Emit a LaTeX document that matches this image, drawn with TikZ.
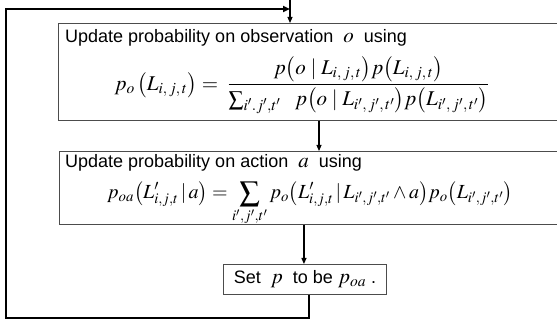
\documentclass[tikz,border=0pt]{standalone}
\usepackage{mathptmx}
\usepackage{fontspec}
\setmainfont{Liberation Sans}
\usetikzlibrary{positioning,arrows.meta}

\newcommand\bigmath[1]{{\fontsize{21}{24}\selectfont$#1$}}

\tikzset{
  stepbox/.style={draw=black!70,line width=0.9pt,inner sep=0pt,anchor=north west},
  steptext/.style={inner sep=0pt,anchor=base west},
  formula/.style={inner sep=0pt,font=\fontsize{20}{24}\selectfont},
  flow/.style={-{Triangle[length=6pt,width=5pt]},line width=1.1pt},
  loopline/.style={-{Triangle[length=7pt,width=6pt]},line width=2.6pt},
}

\begin{document}
\begin{tikzpicture}[x=1pt,y=-1pt,font=\fontsize{18}{21}\selectfont]
\useasboundingbox (0,0) rectangle (557,323);
% the three steps
\node[stepbox,minimum width=520pt,minimum height=97pt] (obs) at (58,23) {};
\node[stepbox,minimum width=520pt,minimum height=73pt] (act) at (59,151) {};
\node[stepbox,minimum width=163pt,minimum height=30pt] (set) at (223,264)
  {Set \ \bigmath{p}\ \ to be \bigmath{p_{oa}}\ .};
% texts in the boxes
\node[steptext] (obshead) at ([xshift=7pt,yshift=-20pt]obs.north west)
  {Update probability on observation \ \bigmath{o}\ \ using};
\node[formula,font=\fontsize{21}{25}\selectfont] (obsform) at (302,85)
  {$\displaystyle p_o\,\bigl(L_{i,\,j,\,t}\bigr)=\; \frac{p\bigl(o\mid L_{i,\,j,\,t}\bigr)p\bigl(L_{i,\,j,\,t}\bigr)}
  {\sum\nolimits_{i'.j',t'}\ \ p\bigl(o\mid L_{i',\,j',\,t'}\bigr)p\bigl(L_{i',\,j',\,t'}\bigr)}$};
\node[steptext] (acthead) at ([xshift=6pt,yshift=-17pt]act.north west)
  {Update probability on action \ \bigmath{a}\ \ using};
\node[formula,anchor=base] (actform) at (310,199)
  {$\displaystyle p_{oa}\bigl(L'_{i,j,t}\,|\,a\bigr)= \sum_{i',j',t'} p_o\bigl(L'_{i,j,t}\,|\,L_{i',j',t'}\wedge a\bigr)p_o\bigl(L_{i',j',t'}\bigr)$};
% connectors
\coordinate (entry) at (290,0);
\coordinate (loopleft) at (6,318);
\coordinate (a2s) at ([xshift=-1pt]set.north);
\draw[flow] (entry) -- (entry |- obs.north);
\draw[flow] ([xshift=261pt]obs.south west) coordinate (o2a) -- (o2a |- act.north);
\draw[flow] (a2s |- act.south) -- (a2s);
\draw[loopline] ([xshift=4pt]set.south) |- (loopleft) |- ([yshift=-9pt]entry);
\end{tikzpicture}
\end{document}
